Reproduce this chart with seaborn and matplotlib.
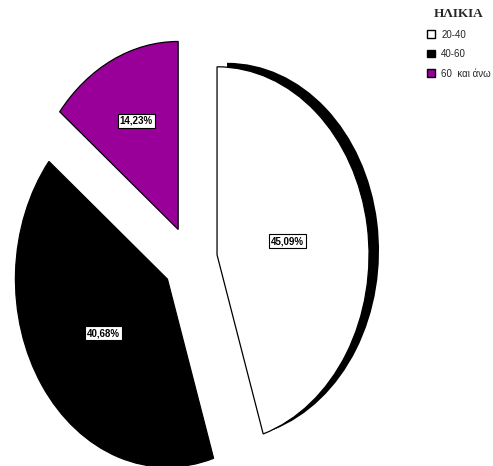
import numpy as np
import matplotlib
matplotlib.use("Agg")
import matplotlib.pyplot as plt
from matplotlib.patches import Patch
import seaborn as sns

# Data
categories = ["20-40", "40-60", "60  και άνω"]
values = [45.09, 40.68, 14.23]
colors = ["#ffffff", "#000000", "#990099"]
legend_title = "ΗΛΙΚΙΑ"

sns.set_theme(style="white")
plt.rcParams['font.family'] = ['Liberation Sans Narrow', 'Liberation Sans', 'DejaVu Sans']

W, H = 493, 466
fig = plt.figure(figsize=(W / 100, H / 100), dpi=100)
ax = fig.add_axes([0, 0, 1, 1])

# pixel geometry of the (elliptical) pie
cx_px, cy_px = 190, 260
rx_px, ry_px = 152, 188
explode = [0.18, 0.18, 0.18]

# shadow of first slice
sdx, sdy = 10 / rx_px, 4 / ry_px
sh_wedges, _ = ax.pie(values, startangle=90, counterclock=False, explode=explode,
                      colors=["black", "none", "none"], center=(sdx, sdy),
                      wedgeprops=dict(linewidth=0), frame=False)
for w in sh_wedges[1:]:
    w.set_visible(False)

wedges, texts, autotexts = ax.pie(
    values, startangle=90, counterclock=False, explode=explode, colors=colors,
    autopct=lambda p: f"{p:.2f}%".replace('.', ','), pctdistance=0.5,
    wedgeprops=dict(edgecolor="black", linewidth=0.9), frame=False)

dists = [0.47, 0.51, 0.64]
for w, t, d in zip(wedges, autotexts, dists):
    th = np.deg2rad((w.theta1 + w.theta2) / 2)
    c = w.center
    t.set_position((c[0] + d * np.cos(th), c[1] + d * np.sin(th)))
    t.set_fontsize(7)
    t.set_fontweight("bold")
    t.set_color("black")
    t.set_bbox(dict(boxstyle="square,pad=0.2", fc="white", ec="black", lw=0.8))

ax.set_aspect("auto")
ax.set_xlim(-cx_px / rx_px, (W - cx_px) / rx_px)
ax.set_ylim(-(H - cy_px) / ry_px, cy_px / ry_px)
ax.axis("off")

handles = [Patch(facecolor=c, edgecolor="black", linewidth=1.0) for c in colors]
leg = fig.legend(handles, categories, loc="upper left",
                 bbox_to_anchor=(427 / W, 1 - 8 / H), bbox_transform=fig.transFigure,
                 frameon=False, fontsize=7, handlelength=0.8, handleheight=0.8,
                 handletextpad=0.65, labelspacing=0.98, borderpad=0, borderaxespad=0,
                 title=legend_title,
                 title_fontproperties=dict(family="Liberation Serif", weight="bold", size=9.5))

fig.savefig("out.png", dpi=100, facecolor="white")
